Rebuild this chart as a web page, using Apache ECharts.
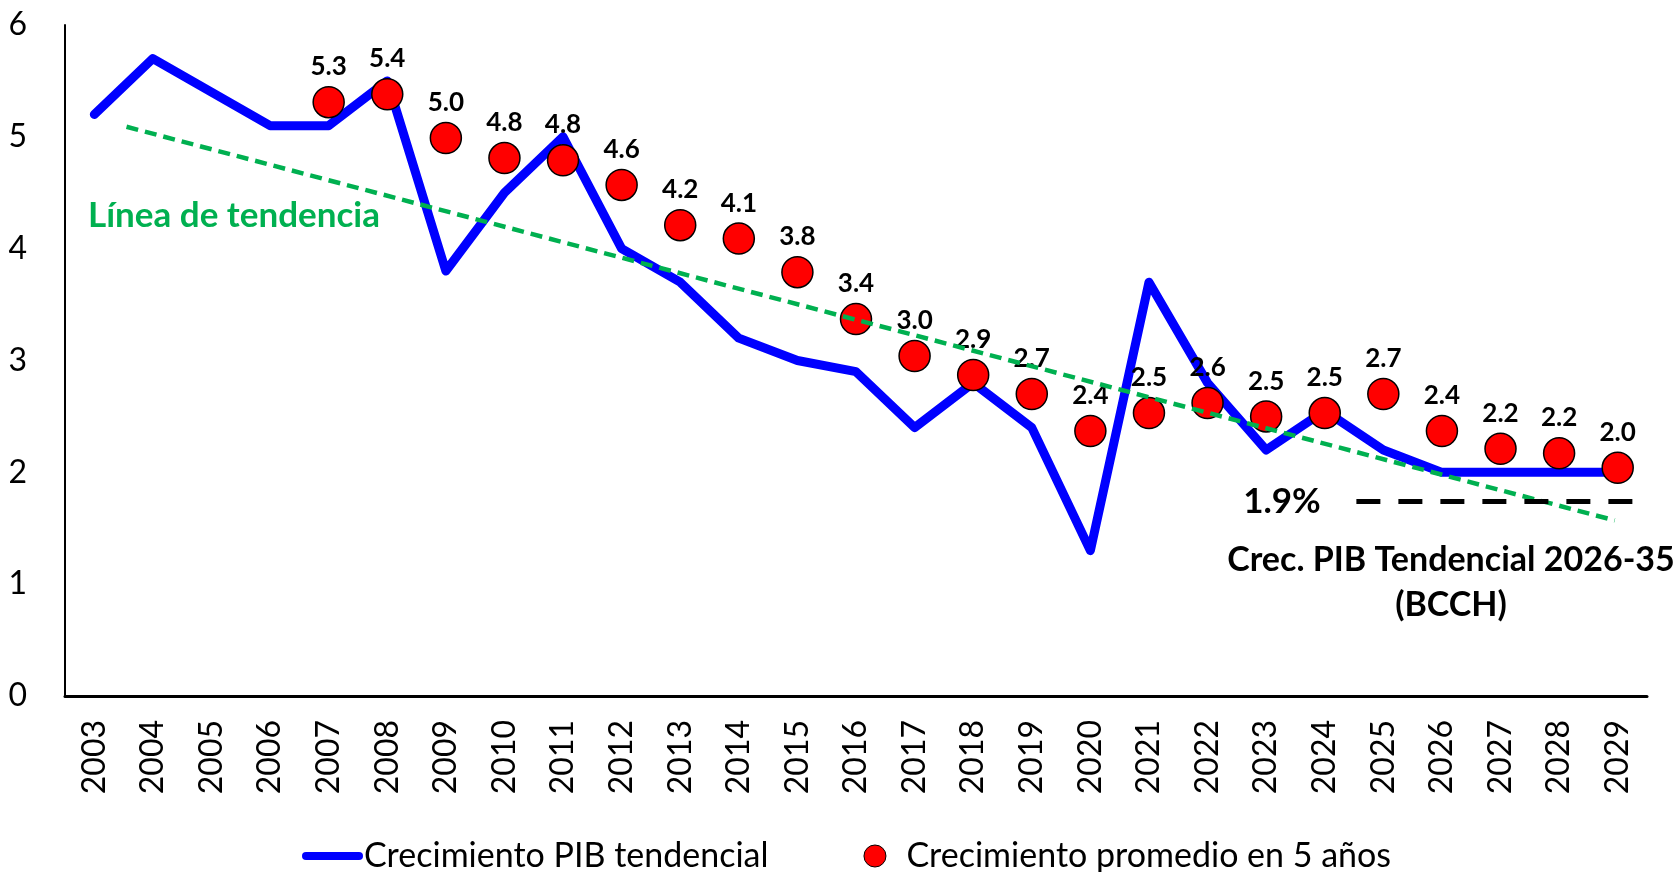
<!DOCTYPE html>
<html>
<head>
<meta charset="utf-8">
<script src="https://cdn.jsdelivr.net/npm/echarts@6/dist/echarts.min.js"></script>
<style>
  html, body { margin: 0; padding: 0; background: #fff; }
  #chart { width: 1675px; height: 872px; }
</style>
</head>
<body>
<div id="chart"></div>
<script>
// categorias (años)
const years = ['2003', '2004', '2005', '2006', '2007', '2008', '2009', '2010', '2011', '2012', '2013', '2014', '2015',
  '2016', '2017', '2018', '2019', '2020', '2021', '2022', '2023', '2024', '2025', '2026', '2027', '2028', '2029'];

// Crecimiento PIB tendencial (linea azul)
const pibTendencial = [5.2, 5.7, 5.4, 5.1, 5.1, 5.5, 3.8, 4.5, 5.0, 4.0, 3.7, 3.2, 3.0, 2.9, 2.4, 2.8, 2.4, 1.3, 3.7,
  2.8, 2.2, 2.55, 2.2, 2.0, 2.0, 2.0, 2.0];

// Crecimiento promedio en 5 años (puntos rojos)
const promedio5 = [null, null, null, null, 5.31, 5.38, 4.99, 4.81, 4.79, 4.57, 4.21, 4.09, 3.79, 3.37, 3.04, 2.87, 2.70,
  2.37, 2.53, 2.62, 2.50, 2.53, 2.70, 2.37, 2.21, 2.17, 2.04];

// linea de tendencia (extremos, en años)
const trendX = [2003.55, 2028.95];
const trendY = [5.09, 1.57];

// Crec. PIB Tendencial 2026-35 (BCCH)
const bcchX = [2024.54, 2029.28];
const bcchY = [1.74, 1.74];

const yMin = 0, yMax = 6, yStep = 1;

const chart = echarts.init(document.getElementById('chart'));

chart.setOption({
  animation: false,
  textStyle: { fontFamily: 'Lato' },
  grid: { left: 65, right: 28, top: 25, bottom: 176 },
  legend: {
    top: 834,
    left: 297,
    itemWidth: 61,
    itemHeight: 22,
    itemGap: 95,
    textStyle: { fontFamily: 'Lato', fontSize: 34, color: '#000', padding: [0, 0, 0, -4] },
    data: [
      { name: 'Crecimiento PIB tendencial', icon: 'path://M4,0 L57,0 A4,4 0 0,1 57,8 L4,8 A4,4 0 0,1 4,0 Z', itemStyle: { color: '#0000FF' } },
      { name: 'Crecimiento promedio en 5 años', icon: 'circle', itemStyle: { color: '#FF0000', borderColor: '#000', borderWidth: 1 } }
    ]
  },
  xAxis: [
    {
      type: 'category',
      data: years,
      boundaryGap: true,
      axisLine: { lineStyle: { color: '#000', width: 3 } },
      axisTick: { show: false },
      axisLabel: { rotate: 90, margin: 24, fontSize: 32, color: '#000', fontFamily: 'Lato', interval: 0 }
    },
    {
      type: 'value',
      min: 2002.5,
      max: 2029.5,
      show: false
    }
  ],
  yAxis: {
    type: 'value',
    min: yMin,
    max: yMax,
    interval: yStep,
    axisLine: { show: true, lineStyle: { color: '#000', width: 2 } },
    axisTick: { show: false },
    splitLine: { show: false },
    axisLabel: { margin: 38, fontSize: 32, color: '#000', fontFamily: 'Lato' }
  },
  series: [
    {
      name: 'Crecimiento PIB tendencial',
      type: 'line',
      data: pibTendencial,
      symbol: 'none',
      z: 2,
      lineStyle: { color: '#0000FF', width: 9, cap: 'round', join: 'round' },
      itemStyle: { color: '#0000FF' }
    },
    {
      name: 'Crecimiento promedio en 5 años',
      type: 'scatter',
      data: promedio5,
      symbol: 'circle',
      symbolSize: 31,
      z: 3,
      itemStyle: { color: '#FF0000', borderColor: '#000', borderWidth: 1.5, opacity: 1 },
      label: {
        show: true,
        position: 'top',
        distance: 6,
        fontFamily: 'Lato',
        fontWeight: 'bold',
        fontSize: 26,
        color: '#000',
        formatter: p => p.value.toFixed(1)
      }
    },
    {
      name: 'tendencia',
      type: 'line',
      xAxisIndex: 1,
      data: trendX.map((x, i) => [x, trendY[i]]),
      symbol: 'none',
      z: 4,
      lineStyle: { color: '#00B050', width: 4.5, type: [12, 7] }
    },
    {
      name: 'bcch',
      type: 'line',
      xAxisIndex: 1,
      data: bcchX.map((x, i) => [x, bcchY[i]]),
      symbol: 'none',
      z: 5,
      lineStyle: { color: '#000', width: 5, type: [24, 18] }
    }
  ],
  graphic: [
    {
      type: 'text', left: 88, top: 198, z: 10,
      style: { text: 'Línea de tendencia', fill: '#00B050', font: 'bold 35px Lato' }
    },
    {
      type: 'text', x: 1282, y: 502, z: 10,
      style: { text: '1.9%', fill: '#000', font: 'bold 35px Lato', align: 'center', verticalAlign: 'middle' }
    },
    {
      type: 'text', x: 1451, y: 560, z: 10,
      style: { text: 'Crec. PIB Tendencial 2026-35', fill: '#000', font: 'bold 34px Lato', align: 'center', verticalAlign: 'middle' }
    },
    {
      type: 'text', x: 1451, y: 605, z: 10,
      style: { text: '(BCCH)', fill: '#000', font: 'bold 34px Lato', align: 'center', verticalAlign: 'middle' }
    }
  ]
});
</script>
</body>
</html>
